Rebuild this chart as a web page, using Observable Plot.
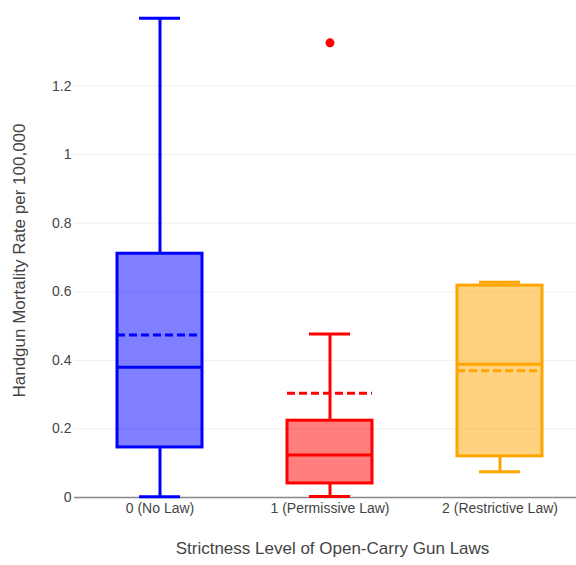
<!DOCTYPE html>
<html>
<head>
<meta charset="utf-8">
<script src="https://cdn.jsdelivr.net/npm/d3@7"></script>
<script src="https://cdn.jsdelivr.net/npm/@observablehq/plot@0.6"></script>
<style>
  body { margin: 0; background: #fff; }
  #chart svg { display: block; }
</style>
</head>
<body>
<div id="chart"></div>
<script>
const categories = ["0 (No Law)", "1 (Permissive Law)", "2 (Restrictive Law)"];
const lowerWhisker = [0.002, 0.003, 0.075];
const q1 = [0.146, 0.041, 0.120];
const median = [0.380, 0.124, 0.389];
const mean = [0.474, 0.304, 0.370];
const q3 = [0.711, 0.224, 0.618];
const upperWhisker = [1.398, 0.477, 0.628];
const colors = ["#0000ff", "#ff0000", "#ffa500"];
const outlierCats = ["1 (Permissive Law)"];
const outlierValues = [1.326];
const yTicks = [0, 0.2, 0.4, 0.6, 0.8, 1, 1.2];

const boxes = categories.map((c, i) => ({
  cat: c, lo: lowerWhisker[i], q1: q1[i], med: median[i], mean: mean[i],
  q3: q3[i], hi: upperWhisker[i], color: colors[i]
}));
const outliers = outlierCats.map((c, i) => ({cat: c, v: outlierValues[i], color: colors[categories.indexOf(c)]}));

const font = "Liberation Sans, Arial, sans-serif";

const chart = Plot.plot({
  width: 576,
  height: 565,
  marginLeft: 74,
  marginRight: 0,
  marginTop: 17,
  marginBottom: 68,
  style: {fontFamily: font, fontSize: "14px", color: "#444", background: "#fff"},
  x: {domain: categories, range: [74, 584], paddingInner: 0.5, paddingOuter: 0.25, label: null, tickSize: 0, tickPadding: 6},
  y: {domain: [0, 1.4], ticks: yTicks, tickFormat: d => String(d), label: null, tickSize: 0, tickPadding: 3},
  marks: [
    Plot.ruleY(yTicks.filter(d => d > 0), {stroke: "#eeeeee", strokeWidth: 1}),
    Plot.ruleY([0], {stroke: "#888", strokeWidth: 1.5}),
    // whiskers
    Plot.ruleX(boxes, {x: "cat", y1: "q3", y2: "hi", stroke: "color", strokeWidth: 3}),
    Plot.ruleX(boxes, {x: "cat", y1: "lo", y2: "q1", stroke: "color", strokeWidth: 3}),
    Plot.tickY(boxes, {x: "cat", y: "hi", stroke: "color", strokeWidth: 3, insetLeft: 22, insetRight: 22}),
    Plot.tickY(boxes, {x: "cat", y: "lo", stroke: "color", strokeWidth: 3, insetLeft: 22, insetRight: 22}),
    // boxes
    Plot.barY(boxes, {x: "cat", y1: "q1", y2: "q3", fill: "color", fillOpacity: 0.5, stroke: "color", strokeWidth: 3}),
    Plot.tickY(boxes, {x: "cat", y: "med", stroke: "color", strokeWidth: 3}),
    Plot.tickY(boxes, {x: "cat", y: "mean", stroke: "color", strokeWidth: 3, strokeDasharray: "8,4"}),
    Plot.dot(outliers, {x: "cat", y: "v", r: 4.5, fill: "color", stroke: null}),
    Plot.text(["Handgun Mortality Rate per 100,000"], {frameAnchor: "left", textAnchor: "middle", dx: -55, dy: 3, rotate: -90, fontSize: 17, fill: "#444", text: d => d}),
    Plot.text(["Strictness Level of Open-Carry Gun Laws"], {frameAnchor: "bottom", textAnchor: "middle", dx: 7, dy: 56, fontSize: 17, fill: "#444", text: d => d})
  ]
});
document.getElementById("chart").appendChild(chart);
</script>
</body>
</html>
